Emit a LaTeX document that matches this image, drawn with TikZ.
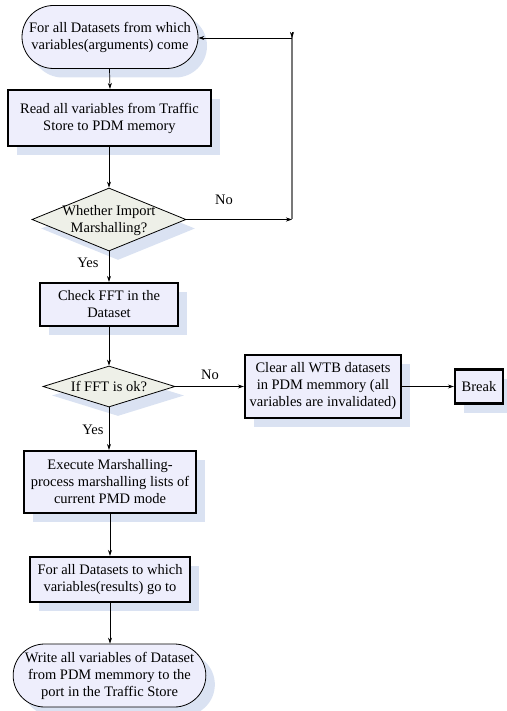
\documentclass[tikz,border=0pt]{standalone}
\usepackage{fontspec}
\setmainfont{Liberation Serif}
\usetikzlibrary{shapes.geometric,shapes.misc,arrows.meta,shadows}

\definecolor{boxfill}{RGB}{238,238,252}
\definecolor{decfill}{RGB}{238,240,232}
\definecolor{shdw}{RGB}{218,226,242}
\definecolor{loopgray}{RGB}{120,120,120}

% text of a decision: takes no room, so the diamond keeps its set size
\newcommand{\dtext}[1]{\makebox[0pt]{\smash{\raisebox{-0.35em}{\begin{tabular}{@{}c@{}}#1\end{tabular}}}}}

\tikzset{
  base/.style={align=center, inner sep=1pt,
    font=\fontsize{14.5}{17}\selectfont,
    general shadow={fill=shdw, shadow xshift=9pt, shadow yshift=-9pt}},
  terminal/.style={base, rounded rectangle, rounded rectangle arc length=180,
    draw, line width=0.8pt, fill=boxfill},
  procbox/.style={base, rectangle, draw, line width=2.2pt, fill=boxfill},
  decision/.style={base, diamond, draw, line width=0.8pt, fill=decfill, inner sep=0pt},
  flow/.style={-{Stealth[length=6pt,width=4pt]}, line width=0.7pt},
  lbl/.style={font=\fontsize{14.5}{17}\selectfont}
}

\begin{document}
\begin{tikzpicture}[x=1pt,y=-1pt]
  \useasboundingbox (0,0) rectangle (506,711);

  % main column
  \node[terminal, minimum width=178pt, minimum height=63pt] (start) at (110,37)
    {For all Datasets from which\\variables(arguments) come};
  \node[procbox, minimum width=203pt, minimum height=56pt] (read) at (109.5,118)
    {Read all variables from Traffic\\Store to PDM memory};
  \node[decision, minimum width=154pt, minimum height=63pt] (imp) at (109,219.5)
    {\dtext{Whether Import\\Marshalling?}};
  \node[procbox, minimum width=138pt, minimum height=43pt] (fft) at (109,304.5)
    {Check FFT in the\\Dataset};
  \node[decision, minimum width=132pt, minimum height=41pt] (ok) at (109,386.5)
    {\dtext{If FFT is ok?}};
  \node[procbox, minimum width=172pt, minimum height=62pt] (exec) at (110,482)
    {Execute Marshalling-\\process marshalling lists of\\current PMD mode};
  \node[procbox, minimum width=160pt, minimum height=45pt] (res) at (110,579.5)
    {For all Datasets to which\\variables(results) go to};
  \node[terminal, minimum width=191pt, minimum height=63pt] (write) at (109.5,675.5)
    {Write all variables of Dataset\\from PDM memmory to the\\port in the Traffic Store};

  % failure branch
  \node[procbox, minimum width=156pt, minimum height=63pt] (clear) at (323,386.5)
    {Clear all WTB datasets\\in PDM memmory (all\\variables are invalidated)};
  \node[procbox, minimum width=48pt, minimum height=34pt] (brk) at (479,386.5)
    {Break};

  % loop-back corners
  \coordinate (lb) at (292,219.5);
  \coordinate (lt) at (292,38);

  % connectors
  \draw[flow] (start.south -| read.north) -- (read.north -| start.south);
  \draw[flow] (read.south -| imp.north) -- (imp.north);
  \draw[flow] (imp.south) -- (fft.north -| imp.south);
  \draw[flow] (fft.south -| ok.north) -- (ok.north);
  \draw[flow] (ok.south) -- (exec.north -| ok.south);
  \draw[flow] (exec.south) -- (res.north);
  \draw[flow] (res.south) -- (write.north -| res.south);
  \draw[flow] (ok.east) -- (clear.west);
  \draw[flow] (clear.east) -- (brk.west);

  \draw[flow] (imp.east) -- (lb);
  \draw[line width=1.4pt, loopgray] (lb) -- ([yshift=2pt]lt);
  \draw[-{Stealth[length=6pt,width=4pt]}, line width=0.7pt] ([yshift=6pt]lt) -- (lt);
  \draw[flow] (lt) -- (start.east |- lt);

  % branch labels
  \node[lbl] (no1) at (224,200) {No};
  \node[lbl] (yes1) at (88,263) {Yes};
  \node[lbl] (no2) at (210,375) {No};
  \node[lbl] (yes2) at (93,430) {Yes};
\end{tikzpicture}
\end{document}
